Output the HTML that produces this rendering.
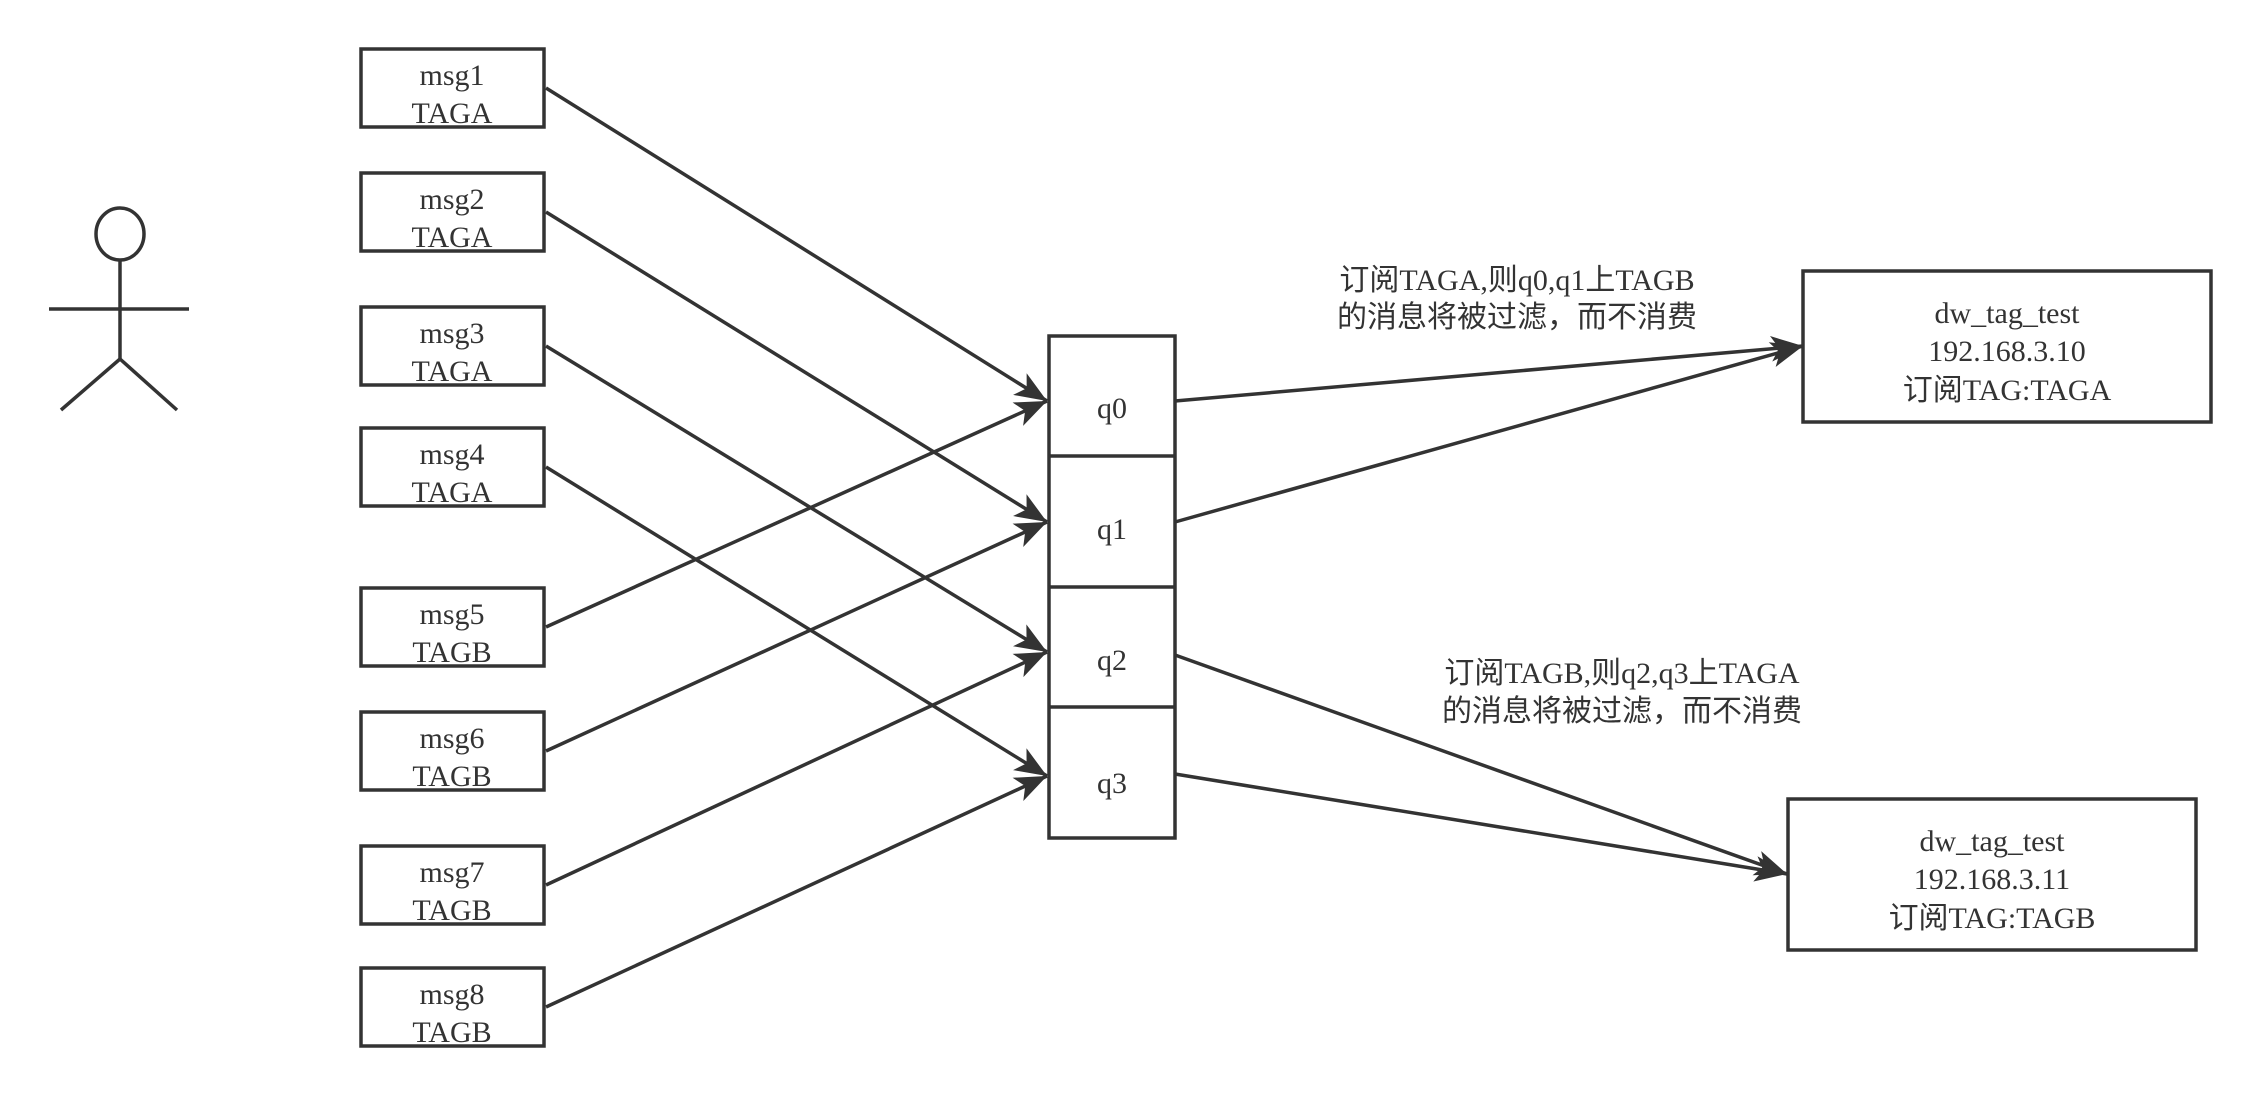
<!DOCTYPE html>
<html><head><meta charset="utf-8"><style>
html,body{margin:0;padding:0;background:#fff;}
svg{display:block;}
text{font-family:"Liberation Serif","Noto Sans CJK SC",serif;fill:#333;font-size:30px;text-anchor:middle;}
.note{font-size:30px;}
</style></head><body>
<svg width="2261" height="1095" viewBox="0 0 2261 1095">
<defs><marker id="ah" markerWidth="32" markerHeight="26" refX="10" refY="4" orient="auto" markerUnits="userSpaceOnUse" viewBox="0 0 10 8">
<path d="M0,0 L10,4 L0,8 L2.5,4 Z" fill="#333"/></marker></defs>
<g stroke="#333" stroke-width="3.5" fill="none">
<ellipse cx="120" cy="234" rx="24" ry="26"/>
<line x1="49" y1="309" x2="189" y2="309"/>
<line x1="120" y1="260" x2="120" y2="359"/>
<line x1="120" y1="359" x2="61" y2="410"/>
<line x1="120" y1="359" x2="177" y2="410"/>
</g>
<g id="msgs"></g>
<g id="edges" stroke="#333" stroke-width="3.5" fill="none"></g>
<g stroke="#333" stroke-width="3.5" fill="#fff">
<rect x="1049" y="336" width="126" height="502"/>
<line x1="1049" y1="456" x2="1175" y2="456"/>
<line x1="1049" y1="587" x2="1175" y2="587"/>
<line x1="1049" y1="707" x2="1175" y2="707"/>
</g>
<text x="1112" y="418">q0</text>
<text x="1112" y="539">q1</text>
<text x="1112" y="670">q2</text>
<text x="1112" y="793">q3</text>
<g>
<rect x="1803" y="271" width="408" height="151" fill="#fff" stroke="#333" stroke-width="3.5"/>
<text x="2007" y="323">dw_tag_test</text>
<text x="2007" y="361">192.168.3.10</text>
<text x="2007" y="400">订阅TAG:TAGA</text>
</g>
<g>
<rect x="1788" y="799" width="408" height="151" fill="#fff" stroke="#333" stroke-width="3.5"/>
<text x="1992" y="851">dw_tag_test</text>
<text x="1992" y="889">192.168.3.11</text>
<text x="1992" y="928">订阅TAG:TAGB</text>
</g>
<g>
<text class="note" x="1517" y="290">订阅TAGA,则q0,q1上TAGB</text>
<text class="note" x="1517" y="327">的消息将被过滤，而不消费</text>
</g>
<g>
<text class="note" x="1622" y="683">订阅TAGB,则q2,q3上TAGA</text>
<text class="note" x="1622" y="721">的消息将被过滤，而不消费</text>
</g>
</svg>
<script>
const msgNames=["msg1","msg2","msg3","msg4","msg5","msg6","msg7","msg8"];
const msgTags=["TAGA","TAGA","TAGA","TAGA","TAGB","TAGB","TAGB","TAGB"];
const msgTops=[49,173,307,428,588,712,846,968];
const msgTargets=[0,1,2,3,0,1,2,3];
const qTargetY=[401,522,652,776];
const NS="http://www.w3.org/2000/svg";
const gm=document.getElementById('msgs'),ge=document.getElementById('edges');
msgNames.forEach((n,i)=>{
  const g=document.createElementNS(NS,'g');
  
  
  const r=document.createElementNS(NS,'rect');
  r.setAttribute('x',361);r.setAttribute('y',msgTops[i]);r.setAttribute('width',183);r.setAttribute('height',78);
  r.setAttribute('fill','#fff');r.setAttribute('stroke','#333');r.setAttribute('stroke-width','3.5');
  g.appendChild(r);
  [[n,36],[msgTags[i],74]].forEach(([t,dy])=>{
    const tx=document.createElementNS(NS,'text');
    tx.setAttribute('x',452);tx.setAttribute('y',msgTops[i]+dy);tx.textContent=t;g.appendChild(tx);
  });
  gm.appendChild(g);
  const l=document.createElementNS(NS,'line');
  
  
  l.setAttribute('x1',546);l.setAttribute('y1',msgTops[i]+39);
  l.setAttribute('x2',1047);l.setAttribute('y2',qTargetY[msgTargets[i]]);
  l.setAttribute('marker-end','url(#ah)');
  ge.appendChild(l);
});
const cons=[[1175,401,1803,346],[1175,522,1803,346],[1175,655,1787,874],[1175,774,1787,874]];
cons.forEach((c,i)=>{
  const l=document.createElementNS(NS,'line');
  
  
  l.setAttribute('x1',c[0]);l.setAttribute('y1',c[1]);l.setAttribute('x2',c[2]);l.setAttribute('y2',c[3]);
  l.setAttribute('marker-end','url(#ah)');
  ge.appendChild(l);
});
</script>
</body></html>
